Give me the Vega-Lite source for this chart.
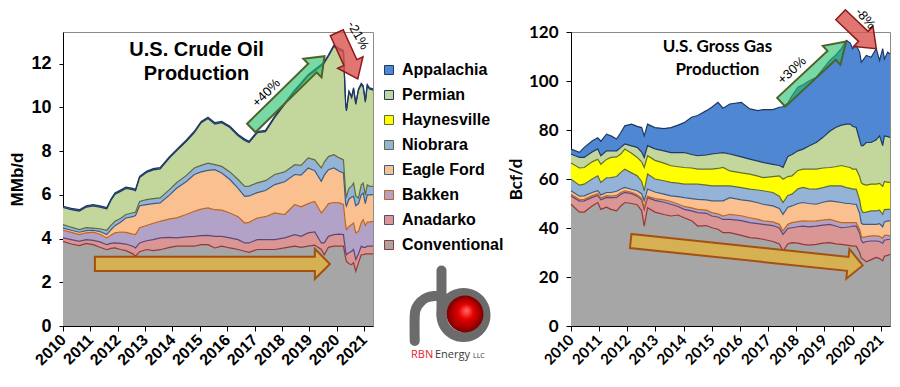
{
"$schema": "https://vega.github.io/schema/vega-lite/v6.json",
"background": "white",
"padding": {"left": 8, "top": 5, "right": 0, "bottom": 0},
"spacing": 0,
"datasets": {
"ord": [{"key":"Conventional","o":1},{"key":"Anadarko","o":2},{"key":"Bakken","o":3},{"key":"Eagle Ford","o":4},{"key":"Niobrara","o":5},{"key":"Haynesville","o":6},{"key":"Permian","o":7},{"key":"Appalachia","o":8}],
"oil": [
{"t":2010,"Conventional":3.87,"Anadarko":0.16,"Bakken":0.35,"Eagle Ford":0.1,"Niobrara":0.16,"Permian":0.78,"Appalachia":0.06},
{"t":2010.3,"Conventional":3.75,"Anadarko":0.2,"Bakken":0.33,"Eagle Ford":0.1,"Niobrara":0.14,"Permian":0.8,"Appalachia":0.06},
{"t":2010.6,"Conventional":3.68,"Anadarko":0.19,"Bakken":0.31,"Eagle Ford":0.11,"Niobrara":0.12,"Permian":0.85,"Appalachia":0.06},
{"t":2010.85,"Conventional":3.78,"Anadarko":0.17,"Bakken":0.31,"Eagle Ford":0.1,"Niobrara":0.14,"Permian":0.94,"Appalachia":0.06},
{"t":2011.1,"Conventional":3.72,"Anadarko":0.2,"Bakken":0.37,"Eagle Ford":0.09,"Niobrara":0.1,"Permian":1.01,"Appalachia":0.06},
{"t":2011.35,"Conventional":3.6,"Anadarko":0.25,"Bakken":0.35,"Eagle Ford":0.12,"Niobrara":0.13,"Permian":0.99,"Appalachia":0.06},
{"t":2011.6,"Conventional":3.49,"Anadarko":0.23,"Bakken":0.31,"Eagle Ford":0.15,"Niobrara":0.2,"Permian":0.98,"Appalachia":0.06},
{"t":2011.75,"Conventional":3.55,"Anadarko":0.23,"Bakken":0.37,"Eagle Ford":0.25,"Niobrara":0.2,"Permian":1.14,"Appalachia":0.06},
{"t":2011.9,"Conventional":3.57,"Anadarko":0.23,"Bakken":0.46,"Eagle Ford":0.33,"Niobrara":0.2,"Permian":1.24,"Appalachia":0.06},
{"t":2012.1,"Conventional":3.5,"Anadarko":0.28,"Bakken":0.52,"Eagle Ford":0.45,"Niobrara":0.17,"Permian":1.24,"Appalachia":0.06},
{"t":2012.3,"Conventional":3.45,"Anadarko":0.3,"Bakken":0.53,"Eagle Ford":0.66,"Niobrara":0.16,"Permian":1.19,"Appalachia":0.06},
{"t":2012.55,"Conventional":3.3,"Anadarko":0.35,"Bakken":0.55,"Eagle Ford":0.8,"Niobrara":0.18,"Permian":1.06,"Appalachia":0.06},
{"t":2012.65,"Conventional":3.19,"Anadarko":0.38,"Bakken":0.61,"Eagle Ford":0.87,"Niobrara":0.15,"Permian":0.99,"Appalachia":0.06},
{"t":2012.8,"Conventional":3.4,"Anadarko":0.4,"Bakken":0.7,"Eagle Ford":1.0,"Niobrara":0.2,"Permian":1.09,"Appalachia":0.06},
{"t":2013.05,"Conventional":3.5,"Anadarko":0.4,"Bakken":0.7,"Eagle Ford":0.95,"Niobrara":0.23,"Permian":1.24,"Appalachia":0.06},
{"t":2013.3,"Conventional":3.45,"Anadarko":0.5,"Bakken":0.75,"Eagle Ford":0.9,"Niobrara":0.23,"Permian":1.31,"Appalachia":0.06},
{"t":2013.55,"Conventional":3.49,"Anadarko":0.54,"Bakken":0.76,"Eagle Ford":0.84,"Niobrara":0.23,"Permian":1.33,"Appalachia":0.06},
{"t":2013.9,"Conventional":3.6,"Anadarko":0.45,"Bakken":0.85,"Eagle Ford":1.1,"Niobrara":0.25,"Permian":1.45,"Appalachia":0.06},
{"t":2014.15,"Conventional":3.65,"Anadarko":0.38,"Bakken":0.92,"Eagle Ford":1.35,"Niobrara":0.25,"Permian":1.46,"Appalachia":0.06},
{"t":2014.5,"Conventional":3.65,"Anadarko":0.43,"Bakken":1.02,"Eagle Ford":1.5,"Niobrara":0.28,"Permian":1.56,"Appalachia":0.06},
{"t":2014.8,"Conventional":3.65,"Anadarko":0.45,"Bakken":1.15,"Eagle Ford":1.68,"Niobrara":0.3,"Permian":1.62,"Appalachia":0.06},
{"t":2015.05,"Conventional":3.72,"Anadarko":0.41,"Bakken":1.22,"Eagle Ford":1.7,"Niobrara":0.3,"Permian":1.95,"Appalachia":0.06},
{"t":2015.3,"Conventional":3.72,"Anadarko":0.43,"Bakken":1.25,"Eagle Ford":1.72,"Niobrara":0.33,"Permian":2.04,"Appalachia":0.06},
{"t":2015.55,"Conventional":3.57,"Anadarko":0.53,"Bakken":1.22,"Eagle Ford":1.83,"Niobrara":0.23,"Permian":1.86,"Appalachia":0.06},
{"t":2015.8,"Conventional":3.65,"Anadarko":0.45,"Bakken":1.2,"Eagle Ford":1.7,"Niobrara":0.3,"Permian":2.0,"Appalachia":0.06},
{"t":2016.1,"Conventional":3.57,"Anadarko":0.46,"Bakken":1.14,"Eagle Ford":1.53,"Niobrara":0.35,"Permian":2.03,"Appalachia":0.06},
{"t":2016.4,"Conventional":3.5,"Anadarko":0.45,"Bakken":1.05,"Eagle Ford":1.3,"Niobrara":0.4,"Permian":2.0,"Appalachia":0.06},
{"t":2016.64,"Conventional":3.42,"Anadarko":0.38,"Bakken":0.91,"Eagle Ford":1.22,"Niobrara":0.46,"Permian":2.1,"Appalachia":0.06},
{"t":2016.8,"Conventional":3.37,"Anadarko":0.43,"Bakken":0.94,"Eagle Ford":1.21,"Niobrara":0.45,"Permian":1.99,"Appalachia":0.06},
{"t":2017.1,"Conventional":3.5,"Anadarko":0.45,"Bakken":0.99,"Eagle Ford":1.16,"Niobrara":0.45,"Permian":2.29,"Appalachia":0.06},
{"t":2017.4,"Conventional":3.5,"Anadarko":0.45,"Bakken":1.05,"Eagle Ford":1.2,"Niobrara":0.45,"Permian":2.24,"Appalachia":0.06},
{"t":2017.74,"Conventional":3.5,"Anadarko":0.45,"Bakken":1.22,"Eagle Ford":1.3,"Niobrara":0.46,"Permian":2.61,"Appalachia":0.06},
{"t":2018.1,"Conventional":3.57,"Anadarko":0.46,"Bakken":1.07,"Eagle Ford":1.5,"Niobrara":0.45,"Permian":3.09,"Appalachia":0.06},
{"t":2018.47,"Conventional":3.65,"Anadarko":0.53,"Bakken":1.38,"Eagle Ford":1.37,"Niobrara":0.45,"Permian":3.36,"Appalachia":0.06},
{"t":2018.7,"Conventional":3.6,"Anadarko":0.5,"Bakken":1.35,"Eagle Ford":1.45,"Niobrara":0.45,"Permian":3.71,"Appalachia":0.06},
{"t":2018.96,"Conventional":3.65,"Anadarko":0.61,"Bakken":1.34,"Eagle Ford":1.63,"Niobrara":0.46,"Permian":3.75,"Appalachia":0.06},
{"t":2019.2,"Conventional":3.7,"Anadarko":0.6,"Bakken":1.4,"Eagle Ford":1.4,"Niobrara":0.5,"Permian":4.07,"Appalachia":0.06},
{"t":2019.44,"Conventional":3.5,"Anadarko":0.3,"Bakken":1.37,"Eagle Ford":1.45,"Niobrara":0.61,"Permian":4.67,"Appalachia":0.06},
{"t":2019.55,"Conventional":3.26,"Anadarko":0.54,"Bakken":1.53,"Eagle Ford":1.57,"Niobrara":0.6,"Permian":4.54,"Appalachia":0.06},
{"t":2019.7,"Conventional":3.6,"Anadarko":0.5,"Bakken":1.5,"Eagle Ford":1.55,"Niobrara":0.6,"Permian":4.59,"Appalachia":0.06},
{"t":2019.9,"Conventional":3.65,"Anadarko":0.53,"Bakken":1.47,"Eagle Ford":1.58,"Niobrara":0.61,"Permian":4.95,"Appalachia":0.06},
{"t":2020.1,"Conventional":3.65,"Anadarko":0.55,"Bakken":1.43,"Eagle Ford":1.45,"Niobrara":0.61,"Permian":4.95,"Appalachia":0.06},
{"t":2020.25,"Conventional":3.65,"Anadarko":0.53,"Bakken":1.38,"Eagle Ford":1.44,"Niobrara":0.6,"Permian":4.94,"Appalachia":0.06},
{"t":2020.33,"Conventional":3.1,"Anadarko":0.3,"Bakken":1.2,"Eagle Ford":1.0,"Niobrara":0.5,"Permian":4.04,"Appalachia":0.06},
{"t":2020.36,"Conventional":2.96,"Anadarko":0.3,"Bakken":1.15,"Eagle Ford":1.07,"Niobrara":0.45,"Permian":3.91,"Appalachia":0.06},
{"t":2020.45,"Conventional":2.85,"Anadarko":0.5,"Bakken":1.2,"Eagle Ford":1.25,"Niobrara":0.5,"Permian":4.39,"Appalachia":0.06},
{"t":2020.55,"Conventional":2.81,"Anadarko":0.61,"Bakken":1.22,"Eagle Ford":1.26,"Niobrara":0.5,"Permian":4.04,"Appalachia":0.06},
{"t":2020.62,"Conventional":2.9,"Anadarko":0.6,"Bakken":1.21,"Eagle Ford":1.22,"Niobrara":0.61,"Permian":4.3,"Appalachia":0.06},
{"t":2020.7,"Conventional":2.5,"Anadarko":0.54,"Bakken":1.22,"Eagle Ford":1.24,"Niobrara":0.45,"Permian":4.19,"Appalachia":0.06},
{"t":2020.8,"Conventional":2.9,"Anadarko":0.4,"Bakken":1.03,"Eagle Ford":1.27,"Niobrara":0.25,"Permian":4.94,"Appalachia":0.06},
{"t":2020.9,"Conventional":3.26,"Anadarko":0.39,"Bakken":1.07,"Eagle Ford":1.28,"Niobrara":0.45,"Permian":4.59,"Appalachia":0.06},
{"t":2020.97,"Conventional":3.26,"Anadarko":0.34,"Bakken":1.27,"Eagle Ford":1.21,"Niobrara":0.46,"Permian":4.4,"Appalachia":0.06},
{"t":2021.05,"Conventional":3.3,"Anadarko":0.3,"Bakken":1.0,"Eagle Ford":1.0,"Niobrara":0.4,"Permian":4.24,"Appalachia":0.06},
{"t":2021.12,"Conventional":3.3,"Anadarko":0.35,"Bakken":1.1,"Eagle Ford":1.25,"Niobrara":0.45,"Permian":4.54,"Appalachia":0.06},
{"t":2021.2,"Conventional":3.3,"Anadarko":0.35,"Bakken":1.1,"Eagle Ford":1.25,"Niobrara":0.4,"Permian":4.44,"Appalachia":0.06},
{"t":2021.33,"Conventional":3.3,"Anadarko":0.35,"Bakken":1.14,"Eagle Ford":1.22,"Niobrara":0.38,"Permian":4.4,"Appalachia":0.06}
],
"gas": [
{"t":2010,"Conventional":49.7,"Anadarko":3.4,"Bakken":0.7,"Eagle Ford":1.4,"Niobrara":4.7,"Haynesville":6.6,"Permian":3.7,"Appalachia":2.0},
{"t":2010.3,"Conventional":46.5,"Anadarko":4.5,"Bakken":0.6,"Eagle Ford":1.4,"Niobrara":4.5,"Haynesville":7.0,"Permian":4.3,"Appalachia":2.1},
{"t":2010.47,"Conventional":46.5,"Anadarko":4.6,"Bakken":0.6,"Eagle Ford":1.4,"Niobrara":4.8,"Haynesville":6.8,"Permian":4.1,"Appalachia":4.1},
{"t":2010.75,"Conventional":49.0,"Anadarko":3.5,"Bakken":0.7,"Eagle Ford":1.3,"Niobrara":5.5,"Haynesville":7.0,"Permian":4.0,"Appalachia":4.5},
{"t":2010.95,"Conventional":50.4,"Anadarko":2.9,"Bakken":0.7,"Eagle Ford":1.2,"Niobrara":6.1,"Haynesville":6.8,"Permian":4.2,"Appalachia":4.5},
{"t":2011.06,"Conventional":47.6,"Anadarko":3.9,"Bakken":0.7,"Eagle Ford":1.3,"Niobrara":5.1,"Haynesville":7.4,"Permian":3.5,"Appalachia":5.9},
{"t":2011.26,"Conventional":48.5,"Anadarko":4.0,"Bakken":0.7,"Eagle Ford":1.3,"Niobrara":6.0,"Haynesville":7.5,"Permian":3.5,"Appalachia":6.8},
{"t":2011.42,"Conventional":47.6,"Anadarko":4.8,"Bakken":0.6,"Eagle Ford":1.5,"Niobrara":6.1,"Haynesville":8.2,"Permian":2.7,"Appalachia":6.1},
{"t":2011.62,"Conventional":47.0,"Anadarko":5.5,"Bakken":0.8,"Eagle Ford":1.7,"Niobrara":6.0,"Haynesville":8.0,"Permian":2.5,"Appalachia":4.8},
{"t":2011.77,"Conventional":49.0,"Anadarko":4.8,"Bakken":0.7,"Eagle Ford":1.4,"Niobrara":6.8,"Haynesville":7.5,"Permian":2.7,"Appalachia":6.1},
{"t":2011.91,"Conventional":50.4,"Anadarko":4.1,"Bakken":0.7,"Eagle Ford":1.4,"Niobrara":7.4,"Haynesville":8.2,"Permian":2.1,"Appalachia":7.4},
{"t":2012.15,"Conventional":50.0,"Anadarko":4.0,"Bakken":0.6,"Eagle Ford":1.2,"Niobrara":6.7,"Haynesville":8.0,"Permian":3.0,"Appalachia":8.9},
{"t":2012.35,"Conventional":49.5,"Anadarko":3.5,"Bakken":0.6,"Eagle Ford":1.6,"Niobrara":6.1,"Haynesville":7.5,"Permian":4.1,"Appalachia":8.6},
{"t":2012.51,"Conventional":47.0,"Anadarko":4.5,"Bakken":0.6,"Eagle Ford":1.9,"Niobrara":5.0,"Haynesville":8.0,"Permian":4.0,"Appalachia":10.0},
{"t":2012.6,"Conventional":40.8,"Anadarko":6.8,"Bakken":0.7,"Eagle Ford":2.8,"Niobrara":4.1,"Haynesville":9.5,"Permian":4.1,"Appalachia":8.8},
{"t":2012.72,"Conventional":48.3,"Anadarko":4.1,"Bakken":0.6,"Eagle Ford":2.9,"Niobrara":6.1,"Haynesville":7.5,"Permian":4.1,"Appalachia":8.8},
{"t":2012.98,"Conventional":46.5,"Anadarko":4.8,"Bakken":0.7,"Eagle Ford":2.7,"Niobrara":5.3,"Haynesville":7.6,"Permian":4.7,"Appalachia":8.7},
{"t":2013.3,"Conventional":45.5,"Anadarko":5.0,"Bakken":1.0,"Eagle Ford":2.3,"Niobrara":5.5,"Haynesville":7.2,"Permian":5.0,"Appalachia":9.1},
{"t":2013.55,"Conventional":44.9,"Anadarko":4.8,"Bakken":1.1,"Eagle Ford":2.3,"Niobrara":5.5,"Haynesville":6.8,"Permian":5.4,"Appalachia":10.2},
{"t":2013.8,"Conventional":45.3,"Anadarko":3.5,"Bakken":1.0,"Eagle Ford":3.0,"Niobrara":5.5,"Haynesville":6.7,"Permian":5.8,"Appalachia":11.2},
{"t":2014.02,"Conventional":44.2,"Anadarko":3.4,"Bakken":1.2,"Eagle Ford":3.6,"Niobrara":5.5,"Haynesville":6.8,"Permian":6.1,"Appalachia":12.2},
{"t":2014.28,"Conventional":43.0,"Anadarko":4.0,"Bakken":1.2,"Eagle Ford":3.8,"Niobrara":5.9,"Haynesville":6.6,"Permian":5.5,"Appalachia":15.2},
{"t":2014.5,"Conventional":40.8,"Anadarko":5.5,"Bakken":1.3,"Eagle Ford":4.1,"Niobrara":6.2,"Haynesville":6.1,"Permian":5.5,"Appalachia":16.4},
{"t":2014.81,"Conventional":41.0,"Anadarko":5.0,"Bakken":1.3,"Eagle Ford":4.2,"Niobrara":6.0,"Haynesville":6.5,"Permian":5.8,"Appalachia":18.1},
{"t":2015.0,"Conventional":40.1,"Anadarko":4.8,"Bakken":1.4,"Eagle Ford":4.8,"Niobrara":6.1,"Haynesville":6.8,"Permian":6.2,"Appalachia":19.1},
{"t":2015.22,"Conventional":39.5,"Anadarko":5.0,"Bakken":1.3,"Eagle Ford":5.3,"Niobrara":6.1,"Haynesville":7.1,"Permian":6.2,"Appalachia":20.8},
{"t":2015.4,"Conventional":38.1,"Anadarko":5.4,"Bakken":1.4,"Eagle Ford":6.2,"Niobrara":6.1,"Haynesville":7.5,"Permian":6.1,"Appalachia":18.1},
{"t":2015.64,"Conventional":38.1,"Anadarko":5.4,"Bakken":2.1,"Eagle Ford":6.8,"Niobrara":4.8,"Haynesville":6.1,"Permian":6.9,"Appalachia":20.4},
{"t":2016.05,"Conventional":37.0,"Anadarko":6.0,"Bakken":2.0,"Eagle Ford":6.5,"Niobrara":5.0,"Haynesville":6.0,"Permian":6.5,"Appalachia":22.3},
{"t":2016.35,"Conventional":36.1,"Anadarko":6.1,"Bakken":2.0,"Eagle Ford":6.9,"Niobrara":4.8,"Haynesville":6.1,"Permian":6.1,"Appalachia":20.5},
{"t":2016.64,"Conventional":35.8,"Anadarko":6.0,"Bakken":1.7,"Eagle Ford":6.8,"Niobrara":5.2,"Haynesville":5.7,"Permian":6.1,"Appalachia":20.6},
{"t":2016.82,"Conventional":35.4,"Anadarko":6.1,"Bakken":1.4,"Eagle Ford":6.8,"Niobrara":5.5,"Haynesville":5.4,"Permian":6.2,"Appalachia":21.5},
{"t":2017.17,"Conventional":34.5,"Anadarko":6.5,"Bakken":1.5,"Eagle Ford":6.5,"Niobrara":5.5,"Haynesville":6.5,"Permian":5.0,"Appalachia":22.3},
{"t":2017.4,"Conventional":33.5,"Anadarko":6.5,"Bakken":1.5,"Eagle Ford":6.5,"Niobrara":5.0,"Haynesville":8.3,"Permian":4.2,"Appalachia":23.8},
{"t":2017.53,"Conventional":30.6,"Anadarko":6.8,"Bakken":1.4,"Eagle Ford":6.8,"Niobrara":4.8,"Haynesville":9.5,"Permian":4.8,"Appalachia":24.8},
{"t":2017.7,"Conventional":33.5,"Anadarko":6.3,"Bakken":1.7,"Eagle Ford":7.0,"Niobrara":4.8,"Haynesville":7.7,"Permian":8.2,"Appalachia":21.8},
{"t":2017.85,"Conventional":34.0,"Anadarko":6.1,"Bakken":2.1,"Eagle Ford":6.8,"Niobrara":4.8,"Haynesville":7.5,"Permian":8.7,"Appalachia":24.0},
{"t":2018.06,"Conventional":33.8,"Anadarko":6.7,"Bakken":2.1,"Eagle Ford":7.4,"Niobrara":6.0,"Haynesville":7.5,"Permian":8.0,"Appalachia":26.0},
{"t":2018.24,"Conventional":33.3,"Anadarko":7.5,"Bakken":2.1,"Eagle Ford":7.5,"Niobrara":6.2,"Haynesville":7.4,"Permian":8.2,"Appalachia":26.3},
{"t":2018.45,"Conventional":33.0,"Anadarko":7.5,"Bakken":2.3,"Eagle Ford":7.2,"Niobrara":6.0,"Haynesville":8.0,"Permian":9.5,"Appalachia":26.5},
{"t":2018.71,"Conventional":33.3,"Anadarko":7.5,"Bakken":2.1,"Eagle Ford":6.8,"Niobrara":6.2,"Haynesville":8.1,"Permian":10.9,"Appalachia":26.6},
{"t":2018.95,"Conventional":33.8,"Anadarko":7.4,"Bakken":2.0,"Eagle Ford":7.3,"Niobrara":6.0,"Haynesville":8.0,"Permian":12.5,"Appalachia":28.0},
{"t":2019.19,"Conventional":34.0,"Anadarko":7.5,"Bakken":2.0,"Eagle Ford":7.6,"Niobrara":6.1,"Haynesville":7.5,"Permian":14.8,"Appalachia":28.9},
{"t":2019.4,"Conventional":33.5,"Anadarko":7.3,"Bakken":2.0,"Eagle Ford":8.0,"Niobrara":6.4,"Haynesville":7.8,"Permian":16.0,"Appalachia":29.5},
{"t":2019.6,"Conventional":33.3,"Anadarko":6.8,"Bakken":2.1,"Eagle Ford":8.2,"Niobrara":6.8,"Haynesville":8.3,"Permian":16.5,"Appalachia":31.2},
{"t":2019.78,"Conventional":33.0,"Anadarko":7.3,"Bakken":1.9,"Eagle Ford":7.8,"Niobrara":6.5,"Haynesville":8.5,"Permian":17.4,"Appalachia":34.2},
{"t":2019.92,"Conventional":32.8,"Anadarko":7.7,"Bakken":1.7,"Eagle Ford":7.8,"Niobrara":6.2,"Haynesville":8.5,"Permian":17.7,"Appalachia":33.1},
{"t":2020.0,"Conventional":32.6,"Anadarko":8.2,"Bakken":1.4,"Eagle Ford":7.5,"Niobrara":6.2,"Haynesville":8.1,"Permian":17.5,"Appalachia":31.7},
{"t":2020.13,"Conventional":32.6,"Anadarko":8.2,"Bakken":1.4,"Eagle Ford":7.5,"Niobrara":6.2,"Haynesville":8.1,"Permian":17.0,"Appalachia":33.6},
{"t":2020.25,"Conventional":30.0,"Anadarko":8.0,"Bakken":1.5,"Eagle Ford":6.5,"Niobrara":5.5,"Haynesville":9.5,"Permian":15.0,"Appalachia":35.8},
{"t":2020.31,"Conventional":27.8,"Anadarko":7.2,"Bakken":1.8,"Eagle Ford":5.2,"Niobrara":5.5,"Haynesville":11.0,"Permian":15.1,"Appalachia":34.1},
{"t":2020.37,"Conventional":27.3,"Anadarko":6.7,"Bakken":2.1,"Eagle Ford":5.4,"Niobrara":4.8,"Haynesville":11.6,"Permian":15.7,"Appalachia":34.9},
{"t":2020.49,"Conventional":26.2,"Anadarko":8.3,"Bakken":2.0,"Eagle Ford":5.0,"Niobrara":5.0,"Haynesville":11.0,"Permian":17.4,"Appalachia":35.5},
{"t":2020.66,"Conventional":27.1,"Anadarko":7.6,"Bakken":2.1,"Eagle Ford":4.7,"Niobrara":5.5,"Haynesville":10.9,"Permian":17.0,"Appalachia":34.8},
{"t":2020.84,"Conventional":28.0,"Anadarko":6.7,"Bakken":2.1,"Eagle Ford":4.7,"Niobrara":5.5,"Haynesville":10.9,"Permian":18.1,"Appalachia":37.2},
{"t":2020.96,"Conventional":27.5,"Anadarko":7.0,"Bakken":2.1,"Eagle Ford":5.2,"Niobrara":5.5,"Haynesville":10.9,"Permian":19.4,"Appalachia":30.8},
{"t":2021.07,"Conventional":26.6,"Anadarko":7.2,"Bakken":2.0,"Eagle Ford":4.7,"Niobrara":5.1,"Haynesville":11.4,"Permian":16.6,"Appalachia":39.6},
{"t":2021.13,"Conventional":28.5,"Anadarko":6.5,"Bakken":2.0,"Eagle Ford":5.5,"Niobrara":5.0,"Haynesville":11.5,"Permian":18.6,"Appalachia":31.4},
{"t":2021.25,"Conventional":28.8,"Anadarko":6.5,"Bakken":1.7,"Eagle Ford":5.9,"Niobrara":4.7,"Haynesville":11.0,"Permian":18.7,"Appalachia":34.5},
{"t":2021.33,"Conventional":29.3,"Anadarko":6.1,"Bakken":1.4,"Eagle Ford":6.1,"Niobrara":4.7,"Haynesville":11.0,"Permian":18.4,"Appalachia":34.0}
]
},
"hconcat": [
{
"width": 310, "height": 294,
"encoding": {
"x": {"field": "t", "type": "quantitative", "title": null, "scale": {"domain": [2010, 2021.33], "nice": false, "zero": false},
 "axis": {"values": [2010,2011,2012,2013,2014,2015,2016,2017,2018,2019,2020,2021], "format": "d", "labelAngle": -45, "labelAlign": "right", "labelBaseline": "middle", "labelFontSize": 16, "tickSize": 5, "labelPadding": 6, "labelFlush": false, "labelOverlap": false}},
"y": {"field": "y1", "type": "quantitative", "title": "MMb/d", "scale": {"domain": [0, 13.45], "nice": false, "zero": true},
 "axis": {"values": [0,2,4,6,8,10,12], "labelFontSize": 18, "tickSize": 4, "labelPadding": 8, "titleFontSize": 17, "titlePadding": 4}}
},
"layer": [
{
"data": {"name": "oil"},
"transform": [
 {"fold": ["Conventional","Anadarko","Bakken","Eagle Ford","Niobrara","Permian","Appalachia"]},
 {"lookup": "key", "from": {"data": {"name": "ord"}, "key": "key", "fields": ["o"]}},
 {"stack": "value", "groupby": ["t"], "sort": [{"field": "o", "order": "ascending"}], "as": ["y0", "y1"]}
],
"layer": [
 {"mark": {"type": "area"},
  "encoding": {"y2": {"field": "y0"},
   "fill": {"field": "key", "type": "nominal",
    "scale": {"domain": ["Appalachia","Permian","Haynesville","Niobrara","Eagle Ford","Bakken","Anadarko","Conventional"], "range": ["#4F87D2","#C3D69B","#FFFF00","#95B3D7","#FAC090","#B3A2C7","#D99694","#A6A6A6"]},
    "legend": {"orient": "none", "legendX": 318, "legendY": 30, "title": null}}}},
 {"mark": {"type": "line", "strokeWidth": 1.2},
  "encoding": {"stroke": {"field": "key", "type": "nominal",
    "scale": {"domain": ["Appalachia","Permian","Haynesville","Niobrara","Eagle Ford","Bakken","Anadarko","Conventional"], "range": ["#1F3864","#1F3864","#5F7030","#5E6B3A","#385D8A","#C0651C","#5C4776","#953735"]},
    "legend": null}}}
]
},
{"data": {"values": [{"t": 2015.46, "y1": 2.84}]},
 "mark": {"type": "point", "shape": "M-1,-0.06L0.872,-0.06L0.872,-0.128L1,0L0.872,0.128L0.872,0.06L-1,0.06Z", "size": 55225, "angle": 0, "filled": true, "fill": "#D7B14F", "fillOpacity": 0.95, "stroke": "#A5500F", "strokeWidth": 2, "opacity": 1}},
{"data": {"values": [{"t": 2018.22, "y1": 10.7}]},
 "mark": {"type": "point", "shape": "M-1,-0.117L0.67,-0.117L0.67,-0.254L1,0L0.67,0.254L0.67,0.117L-1,0.117Z", "size": 10506, "angle": -44.4, "filled": true, "fill": "#1FBF6A", "fillOpacity": 0.6, "stroke": "#4F6228", "strokeWidth": 2, "opacity": 1}},
{"data": {"values": [{"t": 2020.39, "y1": 12.36}]},
 "mark": {"type": "point", "shape": "M-1,-0.28L0.29,-0.28L0.29,-0.55L1,0L0.29,0.55L0.29,0.28L-1,0.28Z", "size": 2560, "angle": 65.5, "filled": true, "fill": "#D9534F", "fillOpacity": 0.8, "stroke": "#8B1A1A", "strokeWidth": 1.5, "opacity": 1}},
{"data": {"values": [{"t": 2017.43, "y1": 10.66, "label": "+40%"}]},
 "mark": {"type": "text", "angle": -45, "fontSize": 13, "font": "Liberation Sans", "align": "center", "baseline": "middle", "color": "#000"},
 "encoding": {"text": {"field": "label"}}},
{"data": {"values": [{"t": 2020.78, "y1": 13.3, "label": "-21%"}]},
 "mark": {"type": "text", "angle": 60, "fontSize": 13, "font": "Liberation Sans", "align": "center", "baseline": "middle", "color": "#000"},
 "encoding": {"text": {"field": "label"}}},
{"data": {"values": [{"t": 2014.88, "y1": 12.36, "label": "U.S. Crude Oil\nProduction"}]},
 "mark": {"type": "text", "lineBreak": "\n", "lineHeight": 24, "fontSize": 20, "fontWeight": "bold", "font": "Liberation Sans", "align": "center", "baseline": "alphabetic", "color": "#000"},
 "encoding": {"text": {"field": "label"}}}
]
},
{
"width": 117, "height": 294,
"view": {"stroke": null},
"encoding": {
"x": {"field": "x", "type": "quantitative", "scale": {"domain": [0, 11.7], "nice": false, "zero": false}, "axis": null},
"y": {"field": "y", "type": "quantitative", "scale": {"domain": [0, 29.4], "nice": false, "zero": false}, "axis": null}
},
"layer": [
{"data": {"values": [{"i":0,"x":10.95,"y":1.1},{"i":1,"x":10.66,"y":2.2},{"i":2,"x":9.85,"y":3.01},{"i":3,"x":8.75,"y":3.3},{"i":4,"x":7.65,"y":3.01},{"i":5,"x":6.84,"y":2.2},{"i":6,"x":6.55,"y":1.1},{"i":7,"x":6.84,"y":0.0},{"i":8,"x":7.65,"y":-0.81},{"i":9,"x":8.75,"y":-1.1},{"i":10,"x":9.85,"y":-0.81},{"i":11,"x":10.66,"y":0.0}]},
 "mark": {"type": "line", "interpolate": "cardinal-closed", "stroke": "#6b6b6b", "strokeWidth": 10},
 "encoding": {"order": {"field": "i"}}},
{"data": {"values": [{"g":"b","i":0,"x":6.55,"y":5.55},{"g":"b","i":1,"x":6.55,"y":1.1},{"g":"r","i":0,"x":3.87,"y":-1.5},{"g":"r","i":1,"x":3.87,"y":1.0},{"g":"r","i":2,"x":4.02,"y":1.77},{"g":"r","i":3,"x":4.46,"y":2.41},{"g":"r","i":4,"x":5.1,"y":2.85},{"g":"r","i":5,"x":5.87,"y":3.0},{"g":"r","i":6,"x":6.5,"y":3.0}]},
 "mark": {"type": "line", "interpolate": "cardinal", "stroke": "#6b6b6b", "strokeWidth": 10, "strokeCap": "round"},
 "encoding": {"order": {"field": "i"}, "detail": {"field": "g"}}},
{"data": {"values": [{"x": 8.9, "y": 1.2}]},
 "mark": {"type": "point", "shape": "circle", "size": 1369, "filled": true, "opacity": 1,
  "color": {"gradient": "radial", "x1": 0.55, "y1": 0.4, "r1": 0, "x2": 0.5, "y2": 0.5, "r2": 0.5, "stops": [{"offset": 0, "color": "#ff7070"}, {"offset": 0.4, "color": "#e80000"}, {"offset": 1, "color": "#7a0000"}]}}},
{"data": {"values": [{"x": 3.5, "y": -3.2, "s": "RBN"}]},
 "mark": {"type": "text", "align": "left", "baseline": "alphabetic", "font": "Open Sans", "fontSize": 11, "color": "#E3242B"},
 "encoding": {"text": {"field": "s"}}},
{"data": {"values": [{"x": 5.9, "y": -3.2, "s": "Energy"}]},
 "mark": {"type": "text", "align": "left", "baseline": "alphabetic", "font": "Open Sans", "fontSize": 11, "color": "#3a3a3a"},
 "encoding": {"text": {"field": "s"}}},
{"data": {"values": [{"x": 9.7, "y": -3.2, "s": "LLC"}]},
 "mark": {"type": "text", "align": "left", "baseline": "alphabetic", "font": "Open Sans", "fontSize": 7, "color": "#3a3a3a"},
 "encoding": {"text": {"field": "s"}}}
]
},
{
"width": 319, "height": 294,
"encoding": {
"x": {"field": "t", "type": "quantitative", "title": null, "scale": {"domain": [2010, 2021.33], "nice": false, "zero": false},
 "axis": {"values": [2010,2011,2012,2013,2014,2015,2016,2017,2018,2019,2020,2021], "format": "d", "labelAngle": -45, "labelAlign": "right", "labelBaseline": "middle", "labelFont": "Lato", "labelFontSize": 15, "tickSize": 5, "labelPadding": 6, "labelFlush": false, "labelOverlap": false}},
"y": {"field": "y1", "type": "quantitative", "title": "Bcf/d", "scale": {"domain": [0, 120], "nice": false, "zero": true},
 "axis": {"values": [0,20,40,60,80,100,120], "labelFont": "Lato", "labelFontSize": 17, "tickSize": 5, "labelPadding": 8, "titleFont": "Lato", "titleFontSize": 17, "titlePadding": 3}}
},
"layer": [
{
"data": {"name": "gas"},
"transform": [
 {"fold": ["Conventional","Anadarko","Bakken","Eagle Ford","Niobrara","Haynesville","Permian","Appalachia"]},
 {"lookup": "key", "from": {"data": {"name": "ord"}, "key": "key", "fields": ["o"]}},
 {"stack": "value", "groupby": ["t"], "sort": [{"field": "o", "order": "ascending"}], "as": ["y0", "y1"]}
],
"layer": [
 {"mark": {"type": "area"},
  "encoding": {"y2": {"field": "y0"},
   "fill": {"field": "key", "type": "nominal",
    "scale": {"domain": ["Appalachia","Permian","Haynesville","Niobrara","Eagle Ford","Bakken","Anadarko","Conventional"], "range": ["#4F87D2","#C3D69B","#FFFF00","#95B3D7","#FAC090","#B3A2C7","#D99694","#A6A6A6"]},
    "legend": {"orient": "none", "legendX": 318, "legendY": 30, "title": null}}}},
 {"mark": {"type": "line", "strokeWidth": 1.2},
  "encoding": {"stroke": {"field": "key", "type": "nominal",
    "scale": {"domain": ["Appalachia","Permian","Haynesville","Niobrara","Eagle Ford","Bakken","Anadarko","Conventional"], "range": ["#1F3864","#1F3864","#5F7030","#5E6B3A","#385D8A","#C0651C","#5C4776","#953735"]},
    "legend": null}}}
]
},
{"data": {"values": [{"t": 2016.24, "y1": 29.7}]},
 "mark": {"type": "point", "shape": "M-1,-0.06L0.872,-0.06L0.872,-0.128L1,0L0.872,0.128L0.872,0.06L-1,0.06Z", "size": 54429, "angle": 6, "filled": true, "fill": "#D7B14F", "fillOpacity": 0.95, "stroke": "#A5500F", "strokeWidth": 2, "opacity": 1}},
{"data": {"values": [{"t": 2018.62, "y1": 103.7}]},
 "mark": {"type": "point", "shape": "M-1,-0.135L0.55,-0.135L0.55,-0.29L1,0L0.55,0.29L0.55,0.135L-1,0.135Z", "size": 7903, "angle": -43, "filled": true, "fill": "#1FBF6A", "fillOpacity": 0.6, "stroke": "#4F6228", "strokeWidth": 2, "opacity": 1}},
{"data": {"values": [{"t": 2020.21, "y1": 120.1}]},
 "mark": {"type": "point", "shape": "M-1,-0.28L0.27,-0.28L0.27,-0.57L1,0L0.27,0.57L0.27,0.28L-1,0.28Z", "size": 2430, "angle": 43.6, "filled": true, "fill": "#D9534F", "fillOpacity": 0.8, "stroke": "#8B1A1A", "strokeWidth": 1.5, "opacity": 1}},
{"data": {"values": [{"t": 2017.85, "y1": 104.3, "label": "+30%"}]},
 "mark": {"type": "text", "angle": -43, "fontSize": 13, "font": "Liberation Sans", "align": "center", "baseline": "middle", "color": "#000"},
 "encoding": {"text": {"field": "label"}}},
{"data": {"values": [{"t": 2020.45, "y1": 125.5, "label": "-8%"}]},
 "mark": {"type": "text", "angle": 50, "fontSize": 13, "font": "Liberation Sans", "align": "center", "baseline": "middle", "color": "#000"},
 "encoding": {"text": {"field": "label"}}},
{"data": {"values": [{"t": 2015.2, "y1": 111.8, "label": "U.S. Gross Gas\nProduction"}]},
 "mark": {"type": "text", "lineBreak": "\n", "lineHeight": 23, "fontSize": 17, "fontWeight": "bold", "font": "Lato", "align": "center", "baseline": "alphabetic", "color": "#000"},
 "encoding": {"text": {"field": "label"}}}
]
}
],
"resolve": {"scale": {"x": "independent", "y": "independent", "fill": "shared", "stroke": "shared"}, "legend": {"fill": "shared"}},
"config": {
"font": "Liberation Sans",
"view": {"stroke": "#8c8c8c", "strokeWidth": 1},
"axis": {"grid": false, "domainColor": "#000", "domainWidth": 1, "tickColor": "#000", "labelColor": "#000", "titleColor": "#000", "labelFontWeight": "bold", "titleFontWeight": "bold", "labelFont": "Liberation Sans", "titleFont": "Liberation Sans"},
"legend": {"symbolType": "square", "symbolSize": 81, "symbolStrokeWidth": 1, "symbolStrokeColor": "#555", "labelFont": "Liberation Sans", "labelFontSize": 16, "labelFontWeight": "bold", "labelColor": "#000", "rowPadding": 9, "labelOffset": 5, "padding": 0, "labelLimit": 200}
}
}
